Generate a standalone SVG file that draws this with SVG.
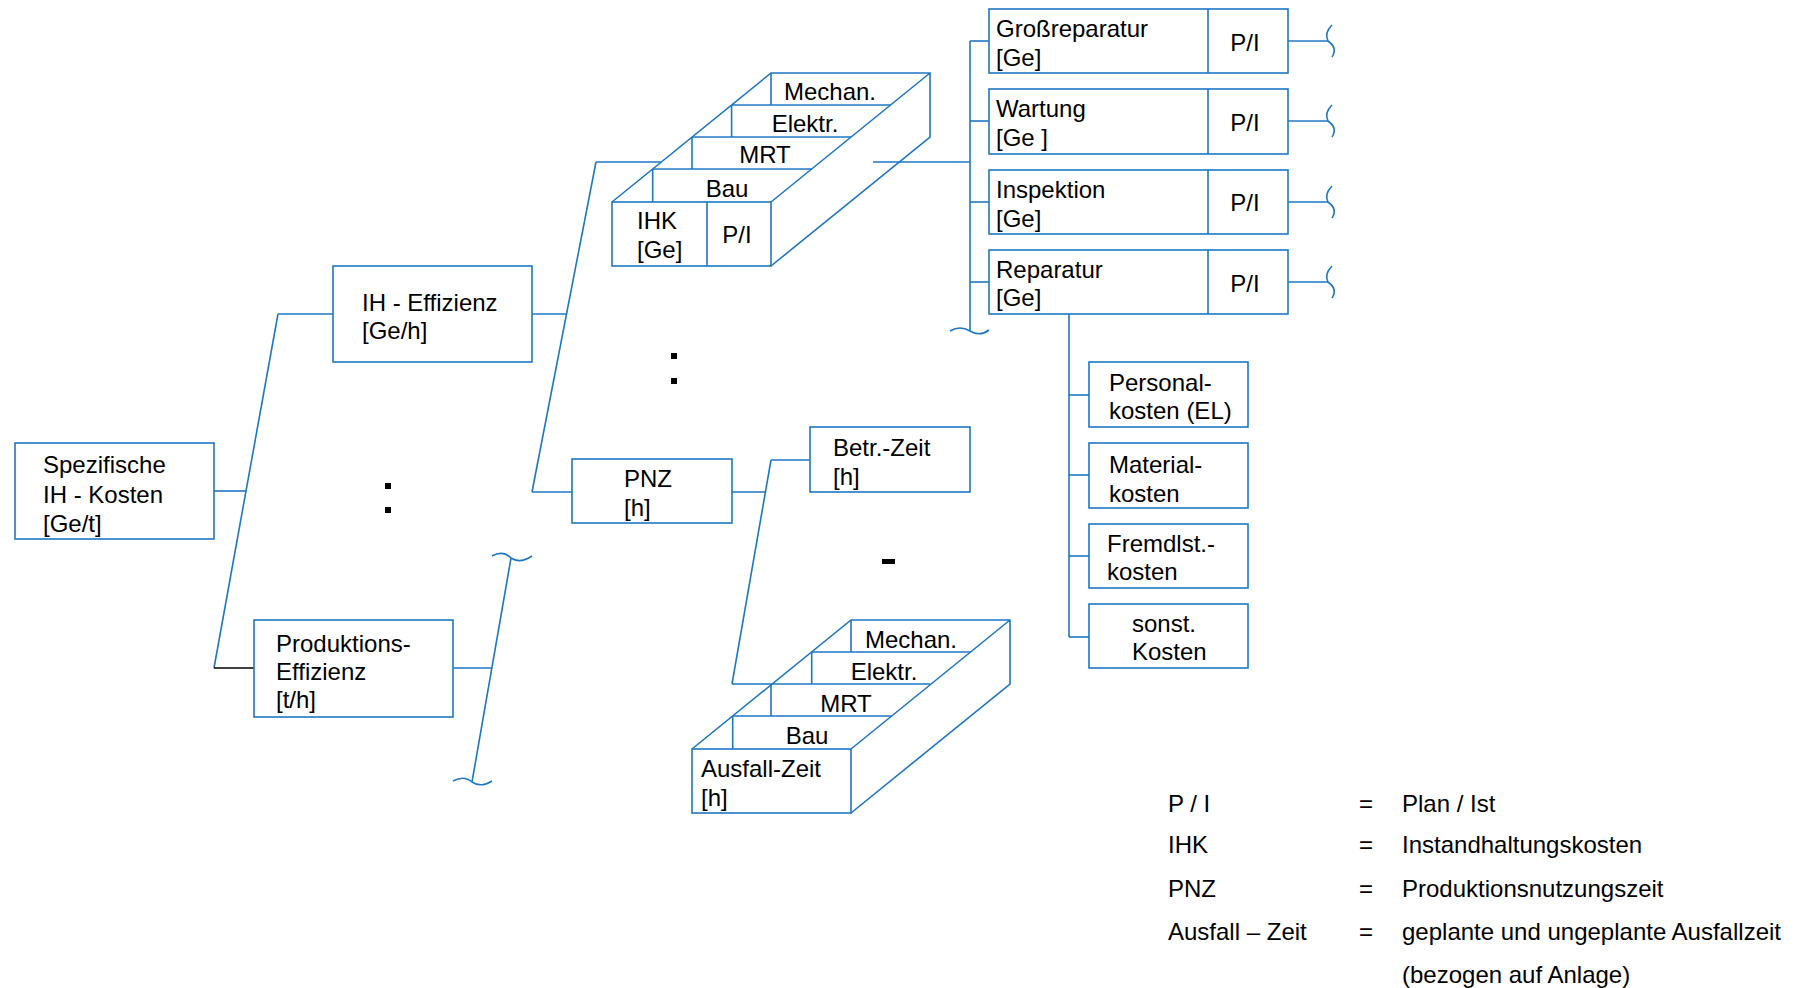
<svg xmlns="http://www.w3.org/2000/svg" width="1798" height="988" viewBox="0 0 1798 988">
<style>
.b{fill:#fff;stroke:#1f77c4;stroke-width:1.6}
.l{fill:none;stroke:#1f77c4;stroke-width:1.6}
.k{fill:none;stroke:#000;stroke-width:1.4}
text{font-family:"Liberation Sans",Arial,sans-serif;font-size:24px;fill:#000}
.c{text-anchor:middle}
.d{fill:#000}
</style>
<rect width="1798" height="988" fill="#fff"/>

<g id="connectors">
  <!-- left tree -->
  <line class="l" x1="214" y1="491" x2="246" y2="491"/>
  <line class="l" x1="278" y1="314" x2="214" y2="668"/>
  <line class="l" x1="278" y1="314" x2="333" y2="314"/>
  <line class="k" x1="214" y1="668" x2="254" y2="668"/>
  <!-- IH-Effizienz branch -->
  <line class="l" x1="532" y1="314" x2="566.5" y2="314"/>
  <line class="l" x1="596" y1="162" x2="532" y2="492"/>
  <line class="l" x1="596" y1="162" x2="661" y2="162"/>
  <line class="l" x1="532" y1="492" x2="572" y2="492"/>
  <!-- Produktions branch -->
  <line class="l" x1="453" y1="668" x2="492" y2="668"/>
  <line class="l" x1="511" y1="558" x2="472" y2="782"/>
  <path class="l" d="M492,556 Q503,550 511,558 Q520,564 532,556"/>
  <path class="l" d="M453,781 Q464,775 472,782 Q481,788 492,781"/>
  <!-- PNZ branch -->
  <line class="l" x1="732" y1="492" x2="765.5" y2="492"/>
  <line class="l" x1="771" y1="460" x2="732" y2="684"/>
  <line class="l" x1="771" y1="460" x2="810" y2="460"/>
  <line class="l" x1="732" y1="684" x2="771" y2="684"/>
  <!-- IHK to cost types -->
  <line class="l" x1="873" y1="162" x2="970" y2="162"/>
  <line class="l" x1="970" y1="41" x2="970" y2="331"/>
  <path class="l" d="M950,331 Q960,325 970,331 Q980,337 989,330"/>
  <line class="l" x1="970" y1="41" x2="989" y2="41"/>
  <line class="l" x1="970" y1="121" x2="989" y2="121"/>
  <line class="l" x1="970" y1="202" x2="989" y2="202"/>
  <line class="l" x1="970" y1="282" x2="989" y2="282"/>
  <!-- right stubs with waves -->
  <line class="l" x1="1288" y1="41" x2="1328" y2="41"/>
  <line class="l" x1="1288" y1="121" x2="1328" y2="121"/>
  <line class="l" x1="1288" y1="202" x2="1328" y2="202"/>
  <line class="l" x1="1288" y1="282" x2="1328" y2="282"/>
  <path class="l" d="M1332,25 Q1324,33 1328,41 Q1338,48 1332,57"/>
  <path class="l" d="M1332,105 Q1324,113 1328,121 Q1338,128 1332,137"/>
  <path class="l" d="M1332,186 Q1324,194 1328,202 Q1338,209 1332,218"/>
  <path class="l" d="M1332,266 Q1324,274 1328,282 Q1338,289 1332,298"/>
  <!-- Reparatur to cost kinds -->
  <line class="l" x1="1069" y1="314" x2="1069" y2="637"/>
  <line class="l" x1="1069" y1="395" x2="1089" y2="395"/>
  <line class="l" x1="1069" y1="475" x2="1089" y2="475"/>
  <line class="l" x1="1069" y1="556" x2="1089" y2="556"/>
  <line class="l" x1="1069" y1="637" x2="1089" y2="637"/>
</g>

<g id="spezifische">
  <rect class="b" x="15" y="443" width="199" height="96"/>
  <text x="43" y="473">Spezifische</text>
  <text x="43" y="503">IH - Kosten</text>
  <text x="43" y="532">[Ge/t]</text>
</g>

<g id="ih-effizienz">
  <rect class="b" x="333" y="266" width="199" height="96"/>
  <text x="362" y="311">IH - Effizienz</text>
  <text x="362" y="339">[Ge/h]</text>
</g>

<g id="produktions-effizienz">
  <rect class="b" x="254" y="620" width="199" height="97"/>
  <text x="276" y="652">Produktions-</text>
  <text x="276" y="680">Effizienz</text>
  <text x="276" y="708">[t/h]</text>
</g>

<g id="dots">
  <rect class="d" x="385" y="483" width="6" height="6"/>
  <rect class="d" x="385" y="507" width="6" height="6"/>
  <rect class="d" x="671" y="353" width="6" height="6"/>
  <rect class="d" x="671" y="378" width="6" height="6"/>
  <rect class="d" x="882" y="559" width="13" height="5"/>
</g>

<g id="ihk-cube">
  <path class="l" d="M612,202 L771,73 L930,73 L930,137 L771,266 M771,202 L930,73"/>
  <line class="l" x1="652.7" y1="169" x2="811.7" y2="169"/>
  <line class="l" x1="692" y1="137" x2="851" y2="137"/>
  <line class="l" x1="731.6" y1="105" x2="890.6" y2="105"/>
  <line class="l" x1="652.7" y1="169" x2="652.7" y2="202"/>
  <line class="l" x1="692" y1="137" x2="692" y2="169"/>
  <line class="l" x1="731.6" y1="105" x2="731.6" y2="137"/>
  <line class="l" x1="771" y1="73" x2="771" y2="105"/>
  <rect class="l" x="612" y="202" width="159" height="64"/>
  <line class="l" x1="707" y1="202" x2="707" y2="266"/>
  <text class="c" x="830" y="100">Mechan.</text>
  <text class="c" x="805" y="132">Elektr.</text>
  <text class="c" x="765" y="163">MRT</text>
  <text class="c" x="727" y="197">Bau</text>
  <text x="637" y="229">IHK</text>
  <text x="637" y="258">[Ge]</text>
  <text class="c" x="737" y="243">P/I</text>
</g>

<g id="pnz">
  <rect class="b" x="572" y="459" width="160" height="64"/>
  <text x="624" y="487">PNZ</text>
  <text x="624" y="516">[h]</text>
</g>

<g id="betr-zeit">
  <rect class="b" x="810" y="427" width="160" height="65"/>
  <text x="833" y="456">Betr.-Zeit</text>
  <text x="833" y="485">[h]</text>
</g>

<g id="ausfall-cube">
  <path class="l" d="M692,749 L851,620 L1010,620 L1010,684 L851,813 M851,749 L1010,620"/>
  <line class="l" x1="811.7" y1="652" x2="970.7" y2="652"/>
  <line class="l" x1="771" y1="684" x2="930" y2="684"/>
  <line class="l" x1="732.7" y1="716" x2="891.7" y2="716"/>
  <line class="l" x1="732.7" y1="716" x2="732.7" y2="749"/>
  <line class="l" x1="771" y1="684" x2="771" y2="716"/>
  <line class="l" x1="811.7" y1="652" x2="811.7" y2="684"/>
  <line class="l" x1="851" y1="620" x2="851" y2="652"/>
  <rect class="l" x="692" y="749" width="159" height="64"/>
  <text class="c" x="911" y="648">Mechan.</text>
  <text class="c" x="884" y="680">Elektr.</text>
  <text class="c" x="846" y="712">MRT</text>
  <text class="c" x="807" y="744">Bau</text>
  <text x="701" y="777">Ausfall-Zeit</text>
  <text x="701" y="806">[h]</text>
</g>

<g id="grossreparatur">
  <rect class="b" x="989" y="9" width="299" height="64"/>
  <line class="l" x1="1208" y1="9" x2="1208" y2="73"/>
  <text x="996" y="37">Großreparatur</text>
  <text x="996" y="66">[Ge]</text>
  <text class="c" x="1245" y="51">P/I</text>
</g>

<g id="wartung">
  <rect class="b" x="989" y="89" width="299" height="65"/>
  <line class="l" x1="1208" y1="89" x2="1208" y2="154"/>
  <text x="996" y="117">Wartung</text>
  <text x="996" y="146">[Ge ]</text>
  <text class="c" x="1245" y="131">P/I</text>
</g>

<g id="inspektion">
  <rect class="b" x="989" y="170" width="299" height="64"/>
  <line class="l" x1="1208" y1="170" x2="1208" y2="234"/>
  <text x="996" y="198">Inspektion</text>
  <text x="996" y="227">[Ge]</text>
  <text class="c" x="1245" y="211">P/I</text>
</g>

<g id="reparatur">
  <rect class="b" x="989" y="250" width="299" height="64"/>
  <line class="l" x1="1208" y1="250" x2="1208" y2="314"/>
  <text x="996" y="278">Reparatur</text>
  <text x="996" y="306">[Ge]</text>
  <text class="c" x="1245" y="292">P/I</text>
</g>

<g id="personalkosten">
  <rect class="b" x="1089" y="362" width="159" height="65"/>
  <text x="1109" y="391">Personal-</text>
  <text x="1109" y="419">kosten (EL)</text>
</g>

<g id="materialkosten">
  <rect class="b" x="1089" y="443" width="159" height="65"/>
  <text x="1109" y="473">Material-</text>
  <text x="1109" y="502">kosten</text>
</g>

<g id="fremdleistungskosten">
  <rect class="b" x="1089" y="524" width="159" height="64"/>
  <text x="1107" y="552">Fremdlst.-</text>
  <text x="1107" y="580">kosten</text>
</g>

<g id="sonstige-kosten">
  <rect class="b" x="1089" y="604" width="159" height="64"/>
  <text x="1132" y="632">sonst.</text>
  <text x="1132" y="660">Kosten</text>
</g>

<g id="legend">
  <text x="1168" y="812">P / I</text>
  <text x="1168" y="853">IHK</text>
  <text x="1168" y="897">PNZ</text>
  <text x="1168" y="940">Ausfall – Zeit</text>
  <text class="c" x="1366" y="812">=</text>
  <text class="c" x="1366" y="853">=</text>
  <text class="c" x="1366" y="897">=</text>
  <text class="c" x="1366" y="940">=</text>
  <text x="1402" y="812">Plan / Ist</text>
  <text x="1402" y="853">Instandhaltungskosten</text>
  <text x="1402" y="897">Produktionsnutzungszeit</text>
  <text x="1402" y="940">geplante und ungeplante Ausfallzeit</text>
  <text x="1402" y="983">(bezogen auf Anlage)</text>
</g>
</svg>
